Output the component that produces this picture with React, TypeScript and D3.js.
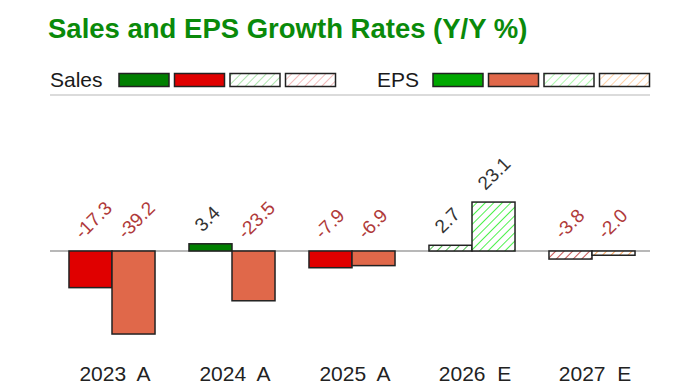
import React from "react";
import * as d3 from "d3";

const categories = ["2023  A", "2024  A", "2025  A", "2026  E", "2027  E"];
const estimated = [false, false, false, true, true];
const salesGrowth = [-17.3, 3.4, -7.9, 2.7, -3.8];
const epsGrowth = [-39.2, -23.5, -6.9, 23.1, -2.0];
const seriesNames = ["Sales", "EPS"];

const W = 700;
const H = 387;

const fills: Record<string, string[]> = {
  // [actual positive, actual negative, estimate positive pattern, estimate negative pattern]
  Sales: ["#007f00", "#e00000", "url(#hSalesPos)", "url(#hSalesNeg)"],
  EPS: ["#00a800", "#e0684a", "url(#hEpsPos)", "url(#hEpsNeg)"],
};
const legendFills: Record<string, string[]> = {
  Sales: ["#007f00", "#e00000", "url(#lSalesPos)", "url(#lSalesNeg)"],
  EPS: ["#00a800", "#e0684a", "url(#lEpsPos)", "url(#lEpsNeg)"],
};

function Hatch({ id, color, width = 1.6, opacity = 1 }: { id: string; color: string; width?: number; opacity?: number }) {
  return (
    <pattern id={id} patternUnits="userSpaceOnUse" width={6} height={6} patternTransform="rotate(45)">
      <rect width={6} height={6} fill="#fff" />
      <line x1={0} y1={0} x2={0} y2={6} stroke={color} strokeWidth={width} strokeOpacity={opacity} />
    </pattern>
  );
}

export default function App() {
  const x0 = d3.scaleBand<string>().domain(categories).range([52, 652]).paddingInner(0.283).paddingOuter(0.1415);
  const x1 = d3.scaleBand<string>().domain(seriesNames).range([0, x0.bandwidth()]).padding(0);
  const y = d3.scaleLinear().domain([-40, 25]).range([251 + 40 * 2.118, 251 - 25 * 2.118]);
  const zero = y(0);

  const bars: any[] = [];
  categories.forEach((c, i) => {
    [salesGrowth[i], epsGrowth[i]].forEach((v, j) => {
      const s = seriesNames[j];
      const idx = (estimated[i] ? 2 : 0) + (v >= 0 ? 0 : 1);
      const bx = (x0(c) as number) + (x1(s) as number);
      const top = Math.min(y(v), zero);
      const h = Math.abs(y(v) - zero);
      bars.push({ key: c + s, bx, top, h, v, fill: fills[s][idx] });
    });
  });

  const bw = x1.bandwidth();
  const legendX = { Sales: 50, EPS: 377 };
  const swatchX = { Sales: 119, EPS: 433 };

  return (
    <svg width={W} height={H} style={{ position: "absolute", left: 0, top: 0, fontFamily: "Liberation Sans, Arial, sans-serif" }}>
      <defs>
        <Hatch id="hSalesPos" color="#22aa22" />
        <Hatch id="hSalesNeg" color="#b82828" />
        <Hatch id="hEpsPos" color="#22ee22" />
        <Hatch id="hEpsNeg" color="#ff9030" />
        <Hatch id="lSalesPos" color="#33bb33" opacity={0.5} />
        <Hatch id="lSalesNeg" color="#dd5555" opacity={0.5} />
        <Hatch id="lEpsPos" color="#22ee22" opacity={0.45} />
        <Hatch id="lEpsNeg" color="#ff9a40" opacity={0.55} />
      </defs>
      <rect width={W} height={H} fill="#fff" />
      <text x={48} y={38} fontSize={27.5} fontWeight="bold" fill="#0a8a0a">
        Sales and EPS Growth Rates (Y/Y %)
      </text>

      {seriesNames.map((s) => (
        <g key={s}>
          <text x={legendX[s as "Sales"]} y={87} fontSize={21} fill="#1a1a1a">
            {s}
          </text>
          {legendFills[s].map((f, k) => (
            <rect
              key={k}
              x={swatchX[s as "Sales"] + k * 55.5}
              y={73.5}
              width={50}
              height={13}
              fill={f}
              stroke="#222"
              strokeWidth={1.5}
            />
          ))}
        </g>
      ))}
      <line x1={50} x2={650} y1={95} y2={95} stroke="#cfcfcf" strokeWidth={1.5} />

      <line x1={50} x2={650} y1={zero} y2={zero} stroke="#a0a0a0" strokeWidth={1.5} />

      {bars.map((b) => (
        <rect key={b.key} x={b.bx} y={b.top} width={bw} height={Math.max(b.h, 1)} fill={b.fill} stroke="#222" strokeWidth={1.5} />
      ))}

      {bars.map((b) => {
        const cx = b.bx + bw / 2;
        const lx = cx - 8;
        const ly = b.top - 11;
        return (
          <text
            key={"l" + b.key}
            x={lx}
            y={ly}
            fontSize={19}
            fill={b.v < 0 ? "#b03a3a" : "#333"}
            transform={`rotate(-45 ${lx} ${ly})`}
          >
            {b.v.toFixed(1)}
          </text>
        );
      })}

      {categories.map((c) => (
        <text
          key={"x" + c}
          x={(x0(c) as number) + x0.bandwidth() / 2 + 3}
          y={381}
          fontSize={21}
          fill="#222"
          textAnchor="middle"
          style={{ whiteSpace: "pre" }}
        >
          {c}
        </text>
      ))}
    </svg>
  );
}
